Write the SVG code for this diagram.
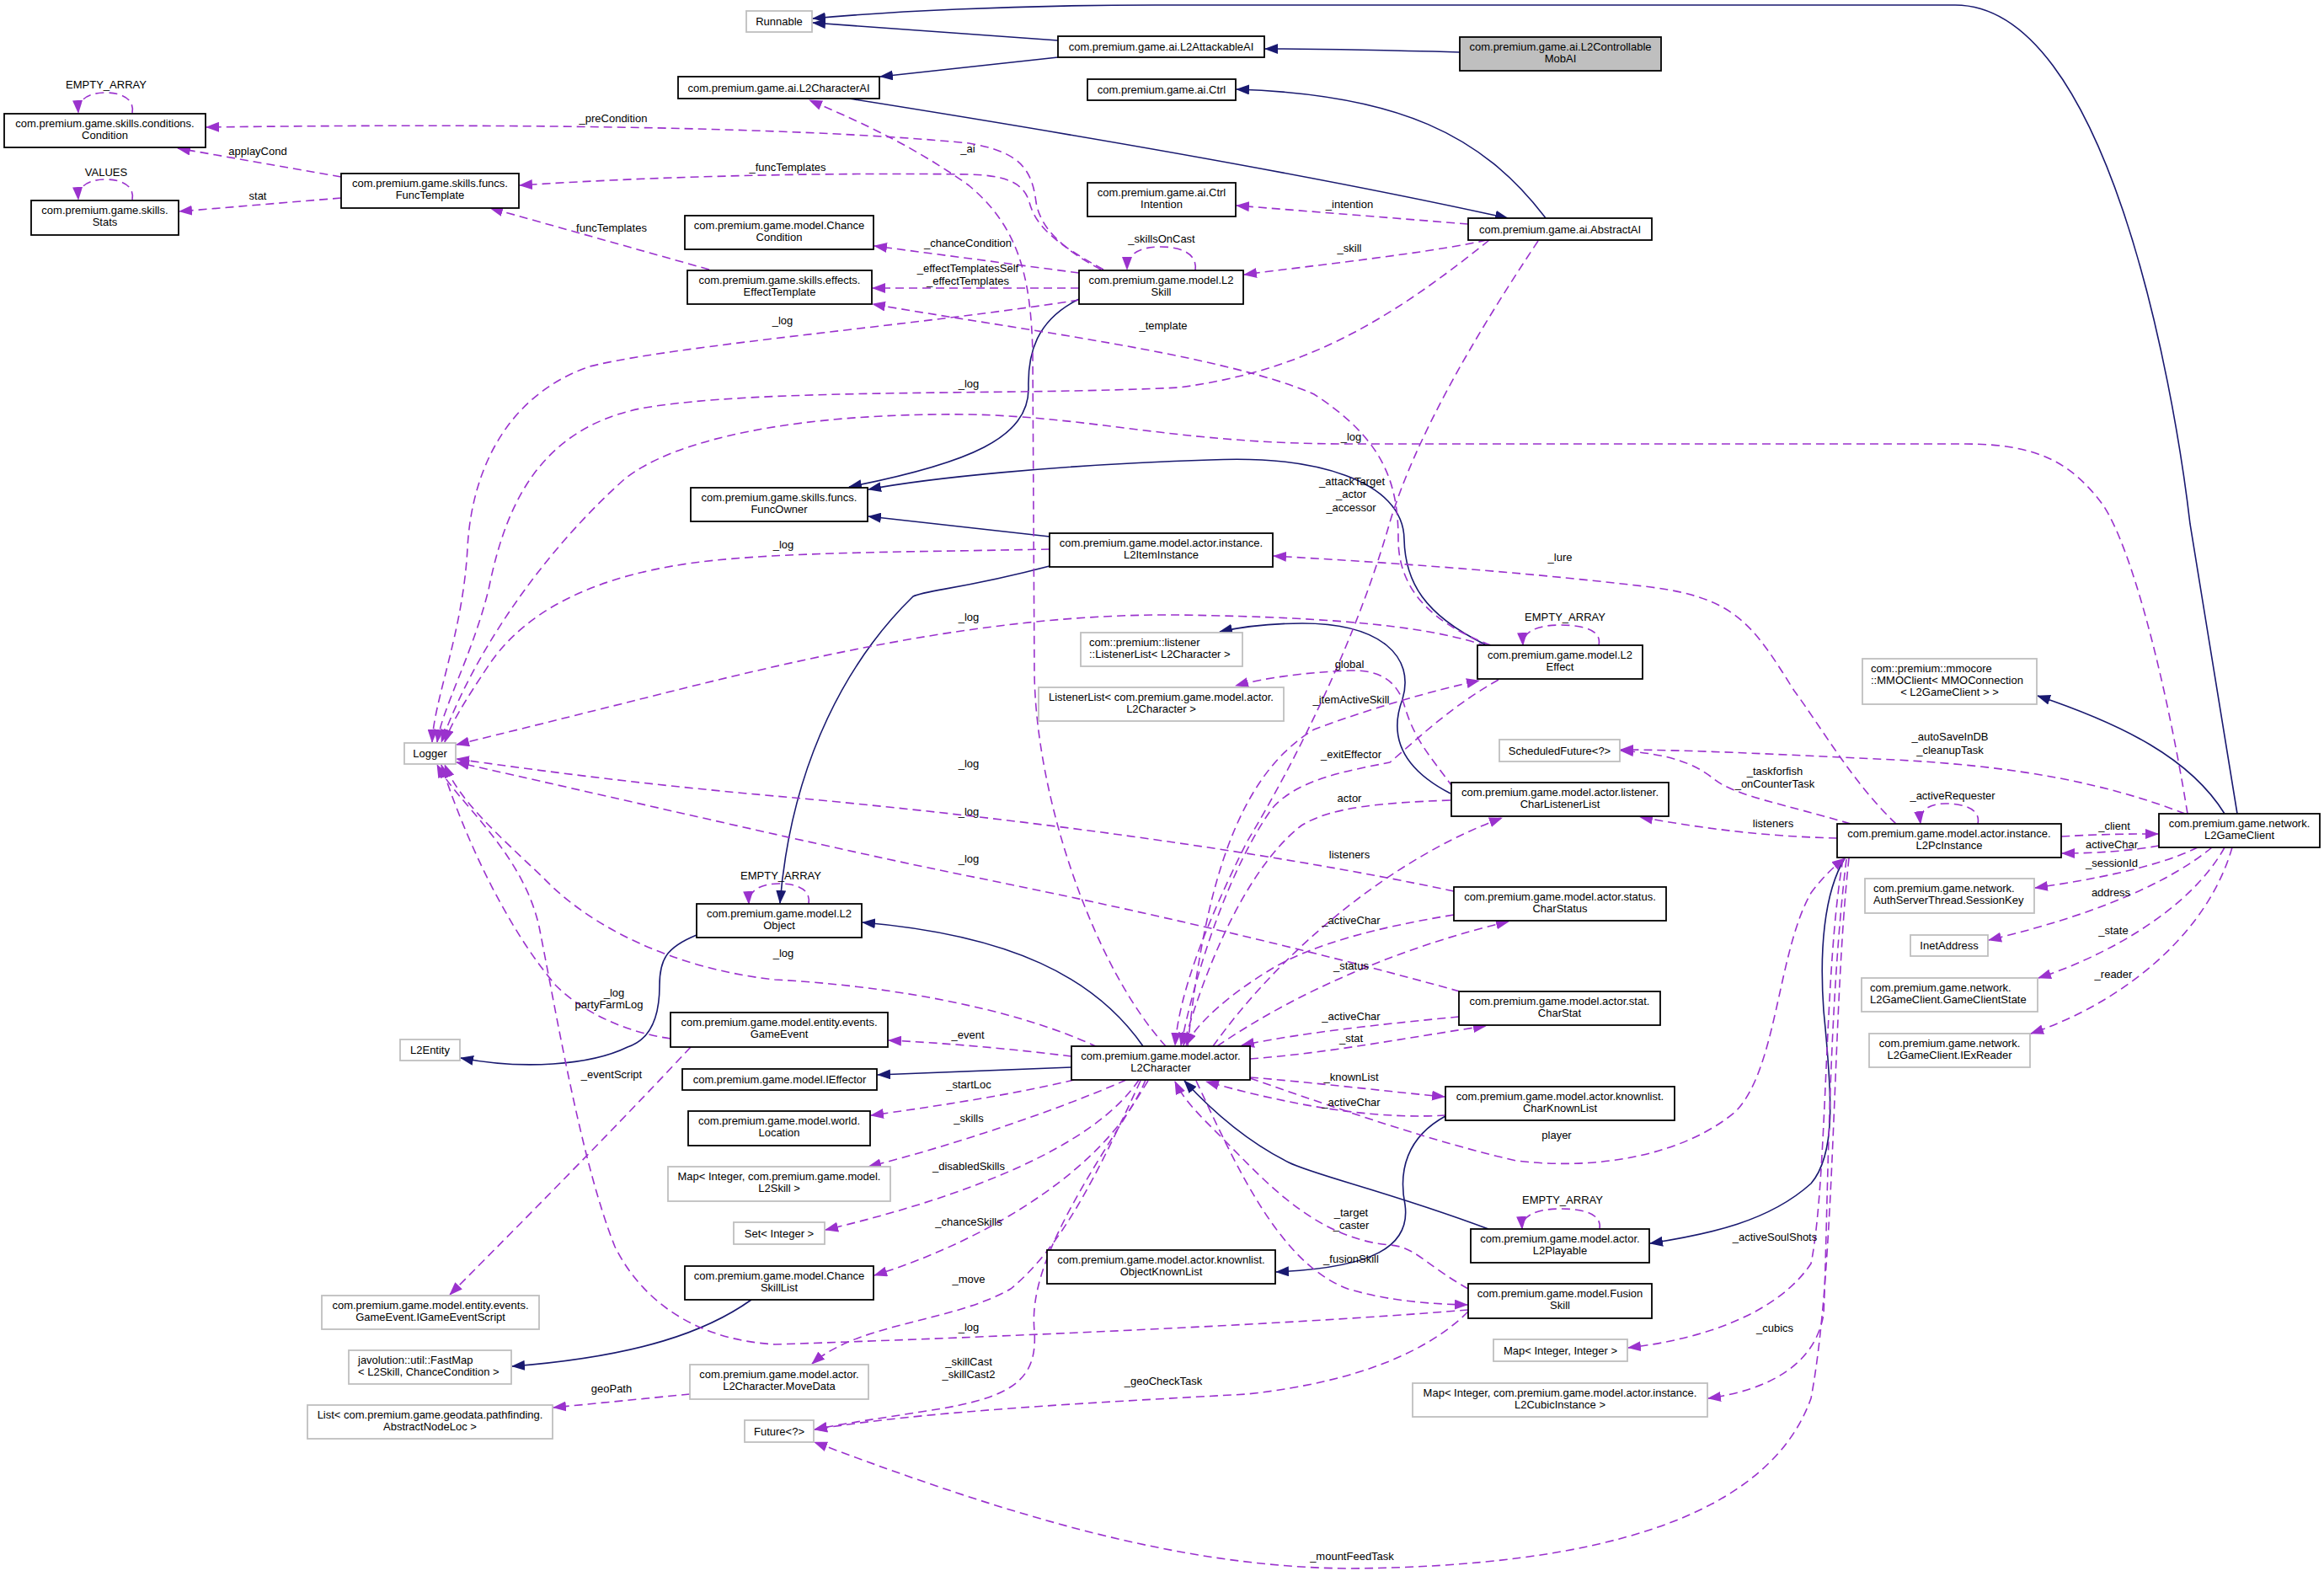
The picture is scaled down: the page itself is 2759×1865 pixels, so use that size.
<svg xmlns="http://www.w3.org/2000/svg" width="2759" height="1865" viewBox="0 0 2759 1865">
<style>
text{font-family:"Liberation Sans",Arial,sans-serif;font-size:13px;fill:#000;text-anchor:middle}
text.l{text-anchor:start}
.b rect{fill:#fff;stroke:#000;stroke-width:1.8}
.x rect{fill:#fff;stroke:#bfbfbf;stroke-width:1.8}
.r rect{fill:#bfbfbf;stroke:#000;stroke-width:1.8}
.s{fill:none;stroke:#191970;stroke-width:1.6}
.d{fill:none;stroke:#9a32cd;stroke-width:1.6;stroke-dasharray:10,6}
</style>
<defs>
<marker id="an" markerUnits="userSpaceOnUse" markerWidth="16" markerHeight="12" refX="15" refY="6" orient="auto"><path d="M0,0 L16,6 L0,12 z" fill="#191970" stroke="none"/></marker>
<marker id="ap" markerUnits="userSpaceOnUse" markerWidth="16" markerHeight="12" refX="15" refY="6" orient="auto"><path d="M0,0 L16,6 L0,12 z" fill="#9a32cd" stroke="none"/></marker>
</defs>
<rect width="2759" height="1865" fill="#fff"/>
<g id="edges">
<g marker-end="url(#an)">
<path class="s" d="M1256,48 L965,27"/>
<path class="s" d="M1733,62 C1660,60 1570,58 1502,58"/>
<path class="s" d="M1256,68 L1045,91"/>
<path class="s" d="M1008,117 Q1500,195 1790,259"/>
<path class="s" d="M1835,259 C1760,160 1660,112 1468,106"/>
<path class="s" d="M2656,966 L2600,622 C2580,450 2500,6 2321,6 L1372,6 C1200,6 1050,14 965,22"/>
<path class="s" d="M2641,966 C2600,900 2520,860 2419,826"/>
<path class="s" d="M1281,355 C1230,380 1220,420 1221,460 C1222,520 1150,550 1008,578"/>
<path class="s" d="M1765,766 C1690,730 1668,690 1667,640 C1666,570 1560,540 1436,546 C1250,552 1100,568 1031,581"/>
<path class="s" d="M1246,637 L1031,613"/>
<path class="s" d="M1246,672 C1140,700 1100,700 1084,708 C1010,780 940,900 926,1072"/>
<path class="s" d="M1722,942 C1660,910 1650,870 1665,830 C1680,780 1640,740 1546,740 C1500,740 1470,745 1448,750"/>
<path class="s" d="M1357,1242 C1300,1160 1200,1110 1024,1095"/>
<path class="s" d="M827,1110 C790,1125 783,1140 783,1170 C783,1210 770,1235 745,1243 C700,1265 620,1270 547,1256"/>
<path class="s" d="M1272,1267 L1042,1276"/>
<path class="s" d="M1767,1459 C1650,1415 1560,1395 1530,1380 C1480,1355 1440,1320 1406,1283"/>
<path class="s" d="M2190,1019 C2165,1060 2160,1130 2165,1200 C2175,1300 2180,1370 2150,1405 C2100,1450 2030,1465 1959,1476"/>
<path class="s" d="M1716,1325 C1670,1350 1660,1390 1668,1430 C1675,1480 1630,1505 1515,1510"/>
<path class="s" d="M892,1543 C840,1580 760,1610 608,1622"/>
</g>
<g marker-end="url(#ap)">
<path class="d" d="M157,134 C160,118 145,110 126,110 C105,110 92,118 93,134"/>
<path class="d" d="M157,237 C160,221 145,213 126,213 C105,213 92,221 93,237"/>
<path class="d" d="M405,210 L211,176"/>
<path class="d" d="M405,235 L213,251"/>
<path class="d" d="M1307,320 C1260,295 1235,270 1230,240 C1225,200 1210,180 1150,170 C1000,155 700,145 245,151"/>
<path class="d" d="M1310,320 C1255,290 1230,270 1222,240 C1215,215 1190,208 1150,207 C1000,205 800,208 617,220"/>
<path class="d" d="M1384,1242 C1300,1150 1230,950 1228,800 L1226,420 C1224,330 1210,270 1150,220 C1080,170 1010,140 961,119"/>
<path class="d" d="M1419,321 C1422,300 1400,293 1378,293 C1355,293 1338,300 1338,320"/>
<path class="d" d="M1281,324 L1038,292"/>
<path class="d" d="M1281,342 L1036,342"/>
<path class="d" d="M842,320 L582,247"/>
<path class="d" d="M1281,356 C1100,385 800,410 700,435 C600,470 560,560 555,650 C550,750 515,830 513,881"/>
<path class="d" d="M1768,285 C1650,380 1550,440 1400,460 C1200,470 900,460 760,485 C640,510 600,600 580,700 C560,780 525,840 519,881"/>
<path class="d" d="M2597,966 C2570,800 2530,650 2497,600 C2460,550 2420,527 2333,527 L1600,527 C1400,527 1300,495 1150,492 C950,490 800,520 740,570 C640,660 560,780 524,881"/>
<path class="d" d="M1246,652 C1100,655 950,655 850,665 C700,680 620,730 580,790 C550,835 535,860 528,881"/>
<path class="d" d="M1765,767 C1700,745 1600,733 1400,730 C1200,728 1000,770 800,820 C680,850 600,870 542,884"/>
<path class="d" d="M1726,1058 C1500,1010 1200,970 920,945 C750,930 620,912 542,901"/>
<path class="d" d="M1733,1177 C1600,1140 1400,1090 1150,1040 C1000,1010 700,940 542,905"/>
<path class="d" d="M1303,1243 C1200,1195 1050,1170 920,1163 C800,1150 700,1100 645,1042 C590,990 545,950 528,908"/>
<path class="d" d="M796,1233 C740,1225 690,1200 660,1170 C600,1100 550,990 524,908"/>
<path class="d" d="M1743,1555 C1500,1575 1100,1590 920,1596 C820,1590 760,1540 730,1480 C690,1380 660,1200 640,1100 C620,1010 540,950 519,908"/>
<path class="d" d="M1743,266 L1468,244"/>
<path class="d" d="M1765,285 C1700,300 1560,315 1477,326"/>
<path class="d" d="M1826,286 C1750,400 1680,520 1650,620 C1610,760 1540,900 1480,1000 C1430,1100 1400,1180 1395,1241"/>
<path class="d" d="M1770,766 C1700,740 1660,700 1660,640 C1660,570 1640,520 1560,468 C1450,420 1200,390 1036,361"/>
<path class="d" d="M1898,766 C1902,748 1880,742 1852,742 C1825,742 1807,750 1808,766"/>
<path class="d" d="M2251,978 C2200,930 2160,860 2130,820 C2080,740 2060,710 1960,697 C1800,678 1650,668 1512,660"/>
<path class="d" d="M1725,935 C1700,900 1680,880 1668,840 C1660,810 1640,795 1603,796 C1550,798 1500,805 1467,814"/>
<path class="d" d="M1410,1242 C1430,1050 1470,920 1560,866 C1630,840 1700,820 1756,808"/>
<path class="d" d="M1779,807 C1720,840 1680,880 1650,905 C1600,915 1540,925 1510,960 C1460,1030 1420,1150 1402,1241"/>
<path class="d" d="M1722,950 C1640,953 1580,958 1545,980 C1480,1030 1430,1150 1405,1241"/>
<path class="d" d="M1440,1242 C1520,1130 1650,1020 1783,971"/>
<path class="d" d="M1726,1086 C1640,1100 1560,1120 1510,1150 C1460,1180 1420,1215 1408,1241"/>
<path class="d" d="M1445,1242 C1550,1170 1680,1120 1791,1094"/>
<path class="d" d="M1732,1207 C1650,1215 1550,1225 1474,1241"/>
<path class="d" d="M1484,1257 C1580,1250 1680,1230 1764,1218"/>
<path class="d" d="M1484,1279 C1560,1285 1640,1295 1715,1302"/>
<path class="d" d="M1716,1324 C1650,1328 1560,1320 1432,1284"/>
<path class="d" d="M1743,1530 C1690,1500 1680,1480 1650,1478 C1560,1470 1500,1400 1450,1350 C1420,1320 1405,1305 1395,1284"/>
<path class="d" d="M1420,1283 C1470,1390 1520,1500 1600,1530 C1650,1545 1700,1548 1742,1549"/>
<path class="d" d="M1484,1280 C1600,1320 1700,1355 1800,1378 C1900,1390 2000,1370 2060,1320 C2110,1270 2110,1130 2150,1060 C2165,1040 2178,1028 2190,1019"/>
<path class="d" d="M2348,978 C2352,960 2330,954 2310,954 C2290,954 2278,962 2280,978"/>
<path class="d" d="M2197,978 C2120,955 2060,945 2035,925 C2010,905 1980,895 1924,891"/>
<path class="d" d="M2594,966 C2500,930 2400,910 2250,902 C2100,895 2000,890 1924,890"/>
<path class="d" d="M2181,995 C2100,993 2030,985 1947,970"/>
<path class="d" d="M2447,993 C2500,990 2530,990 2562,990"/>
<path class="d" d="M2563,1004 C2530,1010 2490,1013 2448,1013"/>
<path class="d" d="M2609,1006 C2560,1030 2480,1045 2416,1054"/>
<path class="d" d="M2626,1006 C2560,1060 2450,1095 2361,1116"/>
<path class="d" d="M2641,1006 C2600,1080 2500,1135 2420,1161"/>
<path class="d" d="M2650,1006 C2620,1110 2520,1190 2411,1227"/>
<path class="d" d="M1272,1254 C1200,1245 1120,1238 1055,1235"/>
<path class="d" d="M1275,1282 C1200,1300 1100,1315 1034,1324"/>
<path class="d" d="M1337,1282 C1250,1320 1130,1360 1031,1385"/>
<path class="d" d="M1352,1282 C1300,1360 1150,1420 980,1460"/>
<path class="d" d="M1360,1282 C1320,1380 1180,1470 1038,1514"/>
<path class="d" d="M1354,1283 C1300,1400 1260,1480 1200,1530 C1130,1570 1020,1570 964,1619"/>
<path class="d" d="M1363,1283 C1290,1400 1220,1500 1228,1580 C1232,1640 1200,1660 1100,1675 C1050,1683 1000,1690 967,1697"/>
<path class="d" d="M1743,1557 C1700,1600 1620,1640 1480,1655 C1300,1665 1100,1675 967,1697"/>
<path class="d" d="M2195,1019 C2175,1200 2180,1500 2150,1660 C2100,1800 1900,1860 1600,1862 C1400,1860 1200,1800 967,1712"/>
<path class="d" d="M2188,1020 C2165,1150 2170,1400 2150,1500 C2110,1560 2020,1590 1933,1600"/>
<path class="d" d="M2192,1020 C2170,1200 2170,1450 2165,1560 C2155,1620 2100,1650 2028,1660"/>
<path class="d" d="M819,1655 L657,1671"/>
<path class="d" d="M820,1243 C790,1275 720,1350 534,1537"/>
<path class="d" d="M960,1073 C963,1055 945,1049 925,1049 C905,1049 888,1056 889,1073"/>
<path class="d" d="M1899,1459 C1902,1441 1880,1435 1853,1435 C1826,1435 1806,1442 1807,1459"/>
</g>
<g id="edge-labels">
<text x="126" y="105">EMPTY_ARRAY</text>
<text x="126" y="209">VALUES</text>
<text x="306" y="184">applayCond</text>
<text x="306" y="237">stat</text>
<text x="728" y="145">_preCondition</text>
<text x="935" y="203">_funcTemplates</text>
<text x="726" y="275">funcTemplates</text>
<text x="1149" y="181">_ai</text>
<text x="1149" y="293">_chanceCondition</text>
<text x="1149" y="323">_effectTemplatesSelf</text>
<text x="1149" y="338">_effectTemplates</text>
<text x="1379" y="288">_skillsOnCast</text>
<text x="1602" y="247">_intention</text>
<text x="1602" y="299">_skill</text>
<text x="1381" y="391">_template</text>
<text x="929" y="385">_log</text>
<text x="1150" y="460">_log</text>
<text x="1604" y="523">_log</text>
<text x="1605" y="576">_attackTarget</text>
<text x="1604" y="591">_actor</text>
<text x="1604" y="607">_accessor</text>
<text x="930" y="651">_log</text>
<text x="1852" y="666">_lure</text>
<text x="1150" y="737">_log</text>
<text x="1858" y="737">EMPTY_ARRAY</text>
<text x="1602" y="793">global</text>
<text x="1604" y="835">_itemActiveSkill</text>
<text x="2315" y="879">_autoSaveInDB</text>
<text x="2315" y="895">_cleanupTask</text>
<text x="1604" y="900">_exitEffector</text>
<text x="1150" y="911">_log</text>
<text x="2107" y="920">_taskforfish</text>
<text x="2107" y="935">_onCounterTask</text>
<text x="2318" y="949">_activeRequester</text>
<text x="1602" y="952">actor</text>
<text x="1150" y="968">_log</text>
<text x="1602" y="1019">listeners</text>
<text x="2105" y="982">listeners</text>
<text x="2510" y="985">_client</text>
<text x="2507" y="1007">activeChar</text>
<text x="1150" y="1024">_log</text>
<text x="2507" y="1029">_sessionId</text>
<text x="927" y="1044">EMPTY_ARRAY</text>
<text x="2506" y="1064">address</text>
<text x="1604" y="1097">_activeChar</text>
<text x="2509" y="1109">_state</text>
<text x="930" y="1136">_log</text>
<text x="1604" y="1151">_status</text>
<text x="2509" y="1161">_reader</text>
<text x="729" y="1183">_log</text>
<text x="723" y="1197">partyFarmLog</text>
<text x="1604" y="1211">_activeChar</text>
<text x="1149" y="1233">_event</text>
<text x="1604" y="1237">_stat</text>
<text x="726" y="1280">_eventScript</text>
<text x="1604" y="1283">_knownList</text>
<text x="1150" y="1292">_startLoc</text>
<text x="1604" y="1313">_activeChar</text>
<text x="1150" y="1332">_skills</text>
<text x="1848" y="1352">player</text>
<text x="1150" y="1389">_disabledSkills</text>
<text x="1855" y="1429">EMPTY_ARRAY</text>
<text x="1604" y="1444">_target</text>
<text x="1604" y="1459">_caster</text>
<text x="1150" y="1455">_chanceSkills</text>
<text x="2107" y="1473">_activeSoulShots</text>
<text x="1604" y="1499">_fusionSkill</text>
<text x="1150" y="1523">_move</text>
<text x="1150" y="1580">_log</text>
<text x="2107" y="1581">_cubics</text>
<text x="1150" y="1621">_skillCast</text>
<text x="1150" y="1636">_skillCast2</text>
<text x="1381" y="1644">_geoCheckTask</text>
<text x="726" y="1653">geoPath</text>
<text x="1605" y="1852">_mountFeedTask</text>
</g>
</g>
<g id="n_runnable" class="x"><rect x="886" y="13" width="78" height="25"/><text x="925" y="30">Runnable</text></g>
<g id="n_attackable" class="b"><rect x="1256" y="43" width="245" height="25"/><text x="1378.5" y="60">com.premium.game.ai.L2AttackableAI</text></g>
<g id="n_controllable" class="r"><rect x="1733" y="44" width="239" height="40"/><text x="1852.5" y="60">com.premium.game.ai.L2Controllable</text><text x="1852.5" y="74">MobAI</text></g>
<g id="n_characterai" class="b"><rect x="805" y="91" width="239" height="26"/><text x="924.5" y="108.5">com.premium.game.ai.L2CharacterAI</text></g>
<g id="n_ctrl" class="b"><rect x="1291" y="94" width="176" height="25"/><text x="1379" y="111">com.premium.game.ai.Ctrl</text></g>
<g id="n_condition" class="b"><rect x="5" y="135" width="239" height="40"/><text x="124.5" y="151">com.premium.game.skills.conditions.</text><text x="124.5" y="165">Condition</text></g>
<g id="n_functemplate" class="b"><rect x="405" y="206" width="211" height="41"/><text x="510.5" y="222">com.premium.game.skills.funcs.</text><text x="510.5" y="236">FuncTemplate</text></g>
<g id="n_stats" class="b"><rect x="37" y="238" width="175" height="41"/><text x="124.5" y="254">com.premium.game.skills.</text><text x="124.5" y="268">Stats</text></g>
<g id="n_ctrlintention" class="b"><rect x="1291" y="217" width="176" height="40"/><text x="1379" y="233">com.premium.game.ai.Ctrl</text><text x="1379" y="247">Intention</text></g>
<g id="n_abstractai" class="b"><rect x="1743" y="259" width="218" height="26"/><text x="1852" y="276.5">com.premium.game.ai.AbstractAI</text></g>
<g id="n_chancecondition" class="b"><rect x="813" y="256" width="224" height="40"/><text x="925" y="272">com.premium.game.model.Chance</text><text x="925" y="286">Condition</text></g>
<g id="n_effecttemplate" class="b"><rect x="816" y="321" width="219" height="40"/><text x="925.5" y="337">com.premium.game.skills.effects.</text><text x="925.5" y="351">EffectTemplate</text></g>
<g id="n_l2skill" class="b"><rect x="1281" y="321" width="195" height="40"/><text x="1378.5" y="337">com.premium.game.model.L2</text><text x="1378.5" y="351">Skill</text></g>
<g id="n_funcowner" class="b"><rect x="820" y="579" width="210" height="40"/><text x="925" y="595">com.premium.game.skills.funcs.</text><text x="925" y="609">FuncOwner</text></g>
<g id="n_iteminstance" class="b"><rect x="1246" y="633" width="265" height="40"/><text x="1378.5" y="649">com.premium.game.model.actor.instance.</text><text x="1378.5" y="663">L2ItemInstance</text></g>
<g id="n_listener1" class="x"><rect x="1283" y="751" width="192" height="40"/><text class="l" x="1293" y="767">com::premium::listener</text><text class="l" x="1293" y="781">::ListenerList&lt; L2Character &gt;</text></g>
<g id="n_listener2" class="x"><rect x="1233" y="816" width="291" height="40"/><text x="1378.5" y="832">ListenerList&lt; com.premium.game.model.actor.</text><text x="1378.5" y="846">L2Character &gt;</text></g>
<g id="n_l2effect" class="b"><rect x="1754" y="766" width="196" height="40"/><text x="1852" y="782">com.premium.game.model.L2</text><text x="1852" y="796">Effect</text></g>
<g id="n_mmoclient" class="x"><rect x="2211" y="782" width="207" height="54"/><text class="l" x="2221" y="798">com::premium::mmocore</text><text class="l" x="2221" y="812">::MMOClient&lt; MMOConnection</text><text x="2314.5" y="826">&lt; L2GameClient &gt; &gt;</text></g>
<g id="n_logger" class="x"><rect x="480" y="882" width="61" height="25"/><text x="510.5" y="899">Logger</text></g>
<g id="n_scheduledfuture" class="x"><rect x="1780" y="878" width="143" height="26"/><text x="1851.5" y="895.5">ScheduledFuture&lt;?&gt;</text></g>
<g id="n_charlistenerlist" class="b"><rect x="1723" y="929" width="258" height="40"/><text x="1852" y="945">com.premium.game.model.actor.listener.</text><text x="1852" y="959">CharListenerList</text></g>
<g id="n_gameclient" class="b"><rect x="2563" y="966" width="191" height="40"/><text x="2658.5" y="982">com.premium.game.network.</text><text x="2658.5" y="996">L2GameClient</text></g>
<g id="n_pcinstance" class="b"><rect x="2181" y="978" width="266" height="40"/><text x="2314" y="994">com.premium.game.model.actor.instance.</text><text x="2314" y="1008">L2PcInstance</text></g>
<g id="n_sessionkey" class="x"><rect x="2214" y="1043" width="201" height="41"/><text class="l" x="2224" y="1059">com.premium.game.network.</text><text class="l" x="2224" y="1073">AuthServerThread.SessionKey</text></g>
<g id="n_charstatus" class="b"><rect x="1726" y="1053" width="252" height="40"/><text x="1852" y="1069">com.premium.game.model.actor.status.</text><text x="1852" y="1083">CharStatus</text></g>
<g id="n_l2object" class="b"><rect x="827" y="1073" width="196" height="40"/><text x="925" y="1089">com.premium.game.model.L2</text><text x="925" y="1103">Object</text></g>
<g id="n_inetaddress" class="x"><rect x="2268" y="1110" width="92" height="25"/><text x="2314" y="1127">InetAddress</text></g>
<g id="n_gameclientstate" class="x"><rect x="2210" y="1161" width="209" height="40"/><text class="l" x="2220" y="1177">com.premium.game.network.</text><text class="l" x="2220" y="1191">L2GameClient.GameClientState</text></g>
<g id="n_charstat" class="b"><rect x="1732" y="1177" width="239" height="40"/><text x="1851.5" y="1193">com.premium.game.model.actor.stat.</text><text x="1851.5" y="1207">CharStat</text></g>
<g id="n_gameevent" class="b"><rect x="796" y="1202" width="258" height="41"/><text x="925" y="1218">com.premium.game.model.entity.events.</text><text x="925" y="1232">GameEvent</text></g>
<g id="n_iexreader" class="x"><rect x="2219" y="1227" width="191" height="40"/><text x="2314.5" y="1243">com.premium.game.network.</text><text x="2314.5" y="1257">L2GameClient.IExReader</text></g>
<g id="n_l2entity" class="x"><rect x="475" y="1234" width="71" height="25"/><text x="510.5" y="1251">L2Entity</text></g>
<g id="n_l2character" class="b"><rect x="1272" y="1242" width="212" height="40"/><text x="1378" y="1258">com.premium.game.model.actor.</text><text x="1378" y="1272">L2Character</text></g>
<g id="n_ieffector" class="b"><rect x="810" y="1269" width="231" height="25"/><text x="925.5" y="1286">com.premium.game.model.IEffector</text></g>
<g id="n_charknownlist" class="b"><rect x="1716" y="1290" width="272" height="40"/><text x="1852" y="1306">com.premium.game.model.actor.knownlist.</text><text x="1852" y="1320">CharKnownList</text></g>
<g id="n_location" class="b"><rect x="817" y="1319" width="216" height="41"/><text x="925" y="1335">com.premium.game.model.world.</text><text x="925" y="1349">Location</text></g>
<g id="n_mapskill" class="x"><rect x="793" y="1385" width="264" height="41"/><text x="925" y="1401">Map&lt; Integer, com.premium.game.model.</text><text x="925" y="1415">L2Skill &gt;</text></g>
<g id="n_setinteger" class="x"><rect x="871" y="1451" width="108" height="26"/><text x="925" y="1468.5">Set&lt; Integer &gt;</text></g>
<g id="n_l2playable" class="b"><rect x="1746" y="1459" width="212" height="40"/><text x="1852" y="1475">com.premium.game.model.actor.</text><text x="1852" y="1489">L2Playable</text></g>
<g id="n_objectknownlist" class="b"><rect x="1243" y="1484" width="271" height="40"/><text x="1378.5" y="1500">com.premium.game.model.actor.knownlist.</text><text x="1378.5" y="1514">ObjectKnownList</text></g>
<g id="n_chanceskilllist" class="b"><rect x="813" y="1503" width="224" height="40"/><text x="925" y="1519">com.premium.game.model.Chance</text><text x="925" y="1533">SkillList</text></g>
<g id="n_fusionskill" class="b"><rect x="1743" y="1524" width="218" height="41"/><text x="1852" y="1540">com.premium.game.model.Fusion</text><text x="1852" y="1554">Skill</text></g>
<g id="n_gameeventscript" class="x"><rect x="382" y="1538" width="258" height="40"/><text x="511" y="1554">com.premium.game.model.entity.events.</text><text x="511" y="1568">GameEvent.IGameEventScript</text></g>
<g id="n_mapintint" class="x"><rect x="1773" y="1590" width="159" height="26"/><text x="1852.5" y="1607.5">Map&lt; Integer, Integer &gt;</text></g>
<g id="n_fastmap" class="x"><rect x="414" y="1603" width="193" height="40"/><text class="l" x="425" y="1619">javolution::util::FastMap</text><text class="l" x="425" y="1633">&lt; L2Skill, ChanceCondition &gt;</text></g>
<g id="n_movedata" class="x"><rect x="819" y="1620" width="212" height="41"/><text x="925" y="1636">com.premium.game.model.actor.</text><text x="925" y="1650">L2Character.MoveData</text></g>
<g id="n_mapcubic" class="x"><rect x="1677" y="1642" width="350" height="40"/><text x="1852" y="1658">Map&lt; Integer, com.premium.game.model.actor.instance.</text><text x="1852" y="1672">L2CubicInstance &gt;</text></g>
<g id="n_listnodeloc" class="x"><rect x="365" y="1668" width="291" height="40"/><text x="510.5" y="1684">List&lt; com.premium.game.geodata.pathfinding.</text><text x="510.5" y="1698">AbstractNodeLoc &gt;</text></g>
<g id="n_future" class="x"><rect x="884" y="1686" width="82" height="26"/><text x="925" y="1703.5">Future&lt;?&gt;</text></g>
</svg>
